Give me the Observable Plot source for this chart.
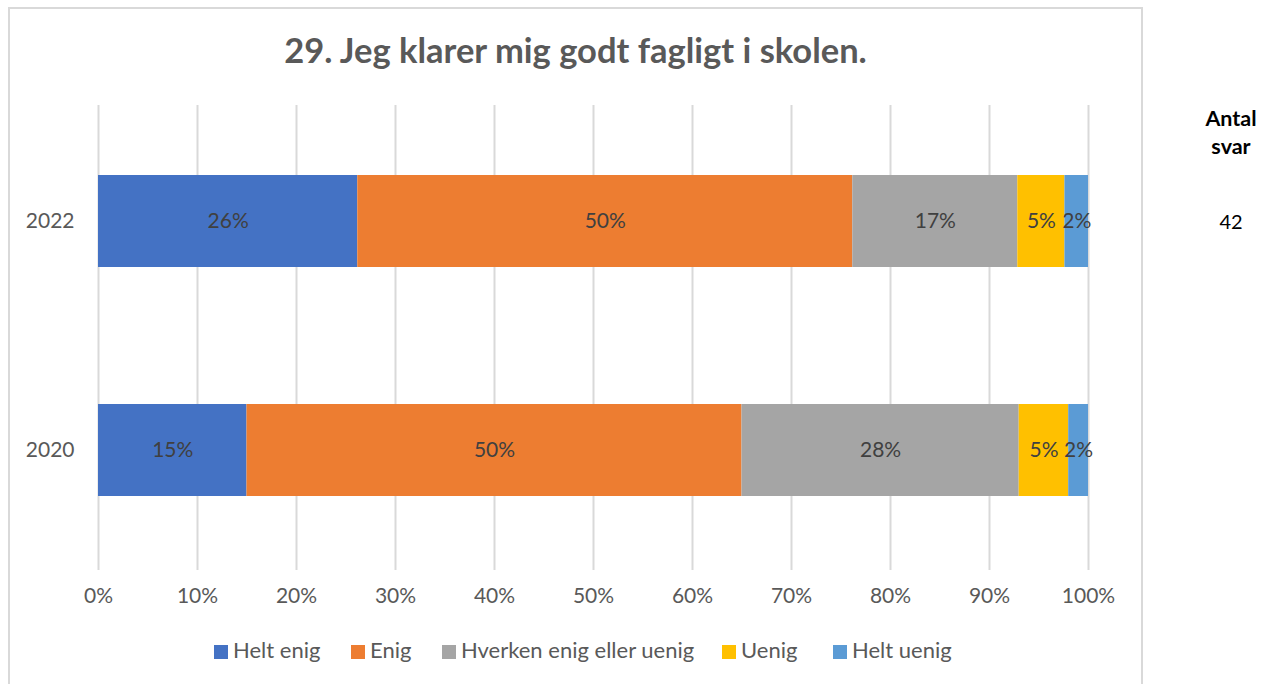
<!DOCTYPE html>
<html>
<head>
<meta charset="utf-8">
<script src="https://cdn.jsdelivr.net/npm/d3@7"></script>
<script src="https://cdn.jsdelivr.net/npm/@observablehq/plot@0.6"></script>
<style>
  body { margin: 0; background: #fff; font-family: Lato, "Open Sans", sans-serif; }
  #wrap { position: relative; width: 1266px; height: 684px; overflow: hidden; }
  #frame { position: absolute; left: 8px; top: 7px; width: 1135px; height: 720px; border: 2px solid #d9d9d9; box-sizing: border-box; }
  #title { position: absolute; left: 8px; width: 1135px; top: 29px; text-align: center; font-weight: 700; font-size: 34.5px; color: #595959; }
  #chart { position: absolute; left: 0; top: 0; }
  #antal { position: absolute; left: 1181px; width: 100px; top: 104px; text-align: center; font-weight: 700; font-size: 21.5px; color: #000; line-height: 28px; }
  #n { position: absolute; left: 1181px; width: 100px; top: 209px; text-align: center; font-size: 20px; color: #000; }
  #legend { position: absolute; top: 636px; left: 0; width: 1266px; height: 28px; }
  .li { position: absolute; font-size: 22px; color: #595959; white-space: nowrap; line-height: 28px; }
  .sw { display: inline-block; width: 14px; height: 14px; margin-right: 5px; vertical-align: -1px; }
</style>
</head>
<body>
<div id="wrap">
  <div id="frame"></div>
  <div id="chart"></div>
  <div id="title">29. Jeg klarer mig godt fagligt i skolen.</div>
  <div id="antal">Antal<br>svar</div>
  <div id="n"></div>
  <div id="legend"></div>
</div>
<script>
const years = ["2022", "2020"];
const categories = ["Helt enig", "Enig", "Hverken enig eller uenig", "Uenig", "Helt uenig"];
const colors = ["#4472C4", "#ED7D31", "#A5A5A5", "#FFC000", "#5B9BD5"];
const values2022 = [26.19, 50.0, 16.67, 4.76, 2.38];
const values2020 = [15, 50, 28, 5, 2];
const antalSvar = 42;
const xTicks = [0, 10, 20, 30, 40, 50, 60, 70, 80, 90, 100];
const legendX = [214, 351, 442, 722, 833];

const rows = [];
[values2022, values2020].forEach((vals, i) => {
  vals.forEach((v, j) => rows.push({year: years[i], cat: categories[j], value: v}));
});

const font = "Lato, 'Open Sans', sans-serif";

const plot = Plot.plot({
  width: 1266,
  height: 620,
  marginLeft: 98,
  marginRight: 178,
  marginTop: 105,
  marginBottom: 50,
  style: {fontFamily: font, fontSize: "21px", color: "#595959", background: "transparent"},
  x: {domain: [0, 100], label: null},
  y: {domain: years, label: null, range: [105, 566], paddingInner: 0.6, paddingOuter: 0.305},
  color: {domain: categories, range: colors},
  marks: [
    Plot.gridX(xTicks, {stroke: "#d9d9d9", strokeOpacity: 1, strokeWidth: 2}),
    Plot.barX(rows, Plot.stackX({x: "value", y: "year", fill: "cat", order: null})),
    Plot.textX(rows, Plot.stackX({x: "value", y: "year", z: "cat", order: null, text: d => Math.round(d.value) + "%", fill: "#404040", fontSize: 21})),
    Plot.axisX({ticks: xTicks, tickFormat: d => d + "%", tickSize: 0, tickPadding: 18, fill: "#595959", fontSize: 21}),
    Plot.axisY({tickSize: 0, tickPadding: 24, fill: "#595959", fontSize: 21})
  ]
});
document.getElementById("chart").appendChild(plot);
document.getElementById("n").textContent = antalSvar;

const leg = document.getElementById("legend");
categories.forEach((c, i) => {
  const d = document.createElement("div");
  d.className = "li";
  d.style.left = legendX[i] + "px";
  d.innerHTML = `<span class="sw" style="background:${colors[i]}"></span>${c}`;
  leg.appendChild(d);
});
</script>
</body>
</html>
